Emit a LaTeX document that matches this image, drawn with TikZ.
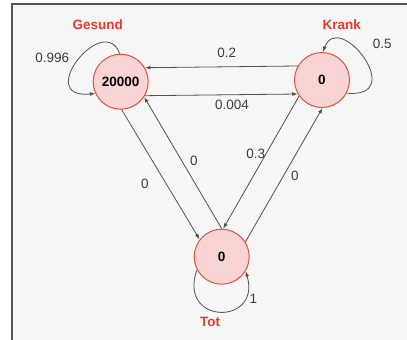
\documentclass[tikz,border=0pt]{standalone}
\usepackage{fontspec}
\setmainfont{Liberation Sans}
\usepackage{tikz}
\usetikzlibrary{arrows.meta,positioning}
\definecolor{StateRed}{HTML}{E5503C}
\definecolor{StatePink}{HTML}{F9D4D4}
\definecolor{TagRed}{HTML}{E83A2A}
\definecolor{EdgeGray}{HTML}{505050}
\definecolor{PanelGray}{HTML}{F6F6F6}
\definecolor{FrameGray}{HTML}{555555}

\begin{document}
\begin{tikzpicture}[x=1pt,y=-1pt,>={Latex[length=5.5pt,width=3.8pt]},
  state/.style={circle,draw=StateRed,fill=StatePink,line width=1pt,minimum size=55pt,inner sep=0pt,font=\fontsize{13.5}{16}\selectfont\bfseries},
  tag/.style={text=TagRed,font=\fontsize{13.5}{16}\selectfont\bfseries},
  prob/.style={text=EdgeGray!75!black,font=\fontsize{13.5}{16}\selectfont,inner sep=1pt},
  trans/.style={->,draw=EdgeGray,line width=0.8pt}]
\useasboundingbox (0,0) rectangle (407,340);
\fill[PanelGray] (12,4) rectangle (407,340);
\draw[FrameGray,line width=1.3pt] (12,340) -- (12,4) -- (407,4);
% states
\node[state] (G) at (120.7,81.7) {20000};
\node[state] (K) at (322,80) {0};
\node[state] (T) at (221.7,256.7) {0};
\node[tag] (gname) at (97.7,25) {Gesund};
\node[tag] (kname) at (341.7,25) {Krank};
\node[tag] (tname) at (210,322) {Tot};
% transitions
\draw[trans] (K.150) -- (G.30);
\draw[trans] (G.-30) -- (K.-150);
\draw[trans] (G.-88) -- (T.142);
\draw[trans] (T.90) -- (G.-33);
\draw[trans] (K.215) -- (T.87);
\draw[trans] (T.32) -- (K.-89);
\draw[trans] (G.92) .. controls +(-16,-43) and +(-62,6) .. (G.205);
\draw[trans] (K.-28) .. controls +(62,6) and +(16,-43) .. (K.88);
\draw[trans] (T.208) .. controls +(-20,55) and +(16,55) .. (T.-31);
% probabilities
\node[prob] (p-kg) at (226.7,53.3) {0.2};
\node[prob] (p-gk) at (232,105) {0.004};
\node[prob] (p-gt) at (145,184) {0};
\node[prob] (p-tg) at (194,160.7) {0};
\node[prob] (p-kt) at (255.7,154) {0.3};
\node[prob] (p-tk) at (295,176) {0};
\node[prob] (p-gg) at (52.3,58.3) {0.996};
\node[prob] (p-kk) at (382.3,44.3) {0.5};
\node[prob] (p-tt) at (253.3,299.3) {1};
\end{tikzpicture}
\end{document}
